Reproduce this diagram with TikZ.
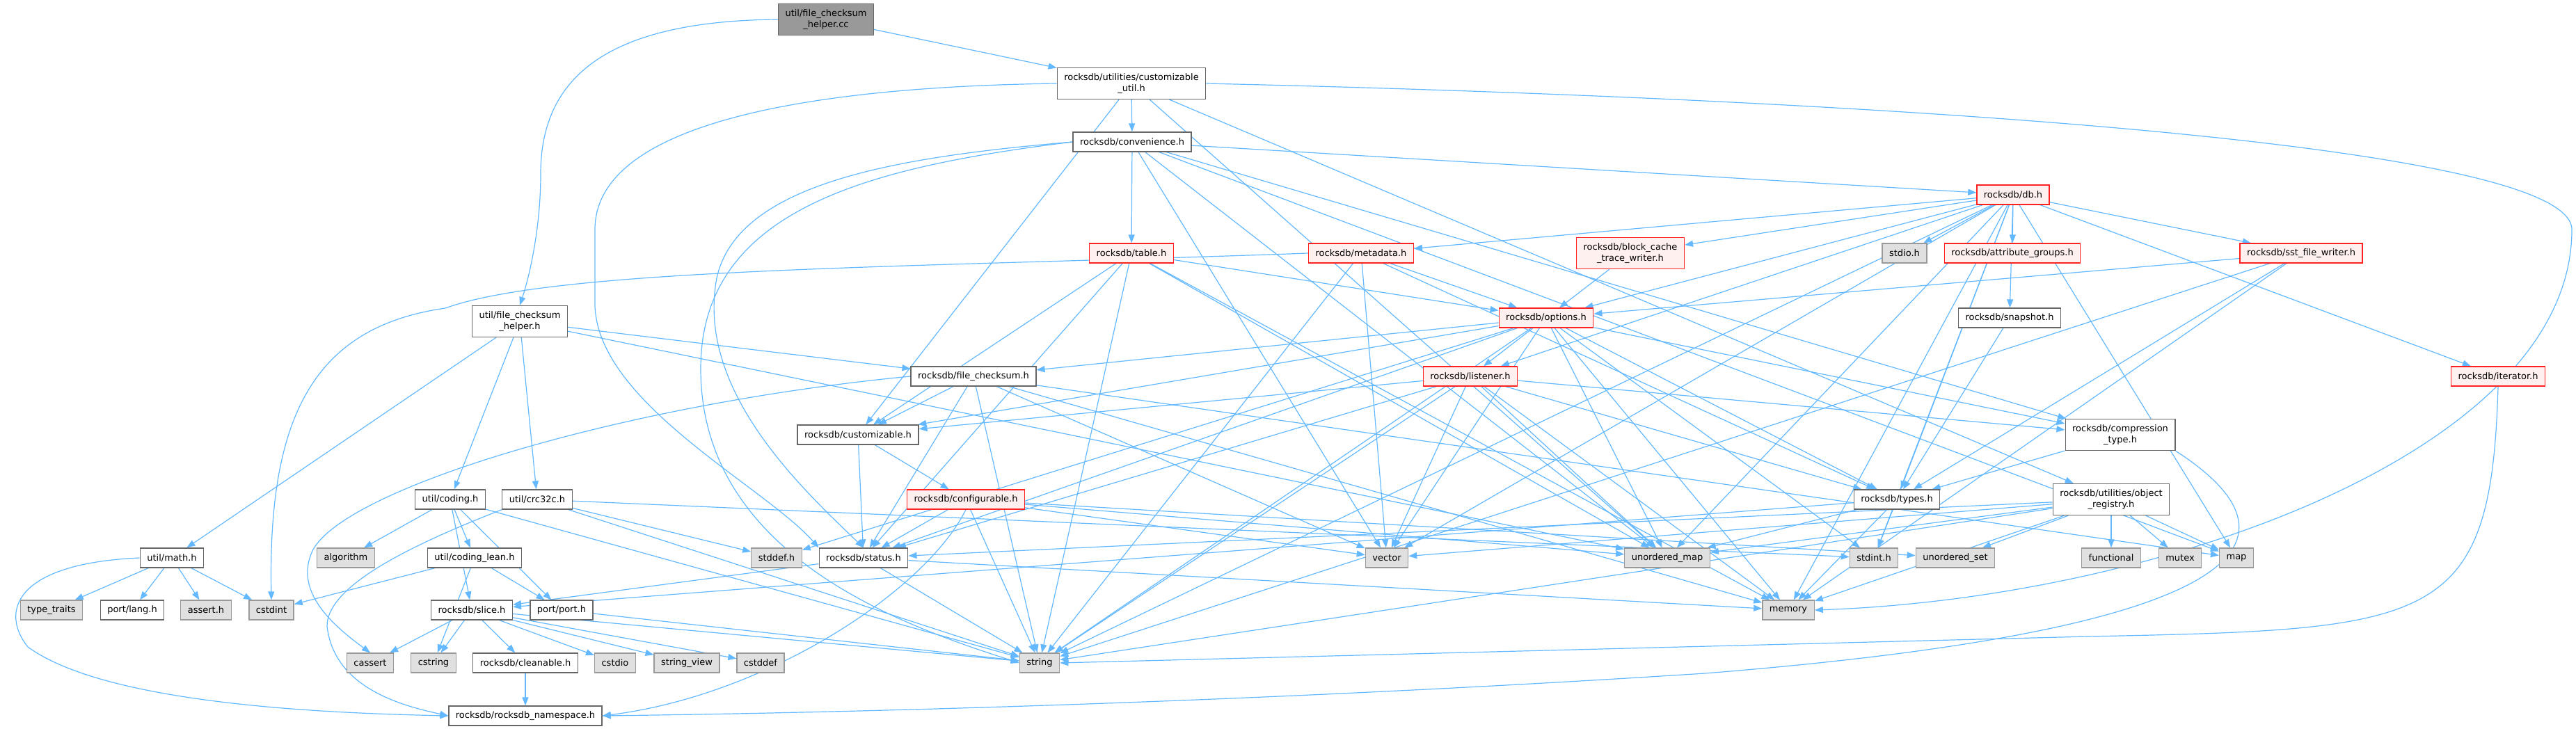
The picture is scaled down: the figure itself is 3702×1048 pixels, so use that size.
\documentclass[tikz,border=0pt]{standalone}
\usepackage{fontspec}
\setmainfont{DejaVu Sans}
\usepackage{xcolor}
\usepackage{tikz}
\usetikzlibrary{arrows.meta,backgrounds}
\definecolor{edgeblue}{HTML}{63B8FF}
\definecolor{dxborder}{HTML}{666666}
\definecolor{dxsysborder}{HTML}{999999}
\definecolor{dxsysfill}{HTML}{E0E0E0}
\definecolor{dxredfill}{HTML}{FFF0F0}
\definecolor{dxred}{HTML}{FF2020}
\begin{document}
\begin{tikzpicture}[
  x=1pt, y=-1pt,
  font=\fontsize{13}{16.6}\selectfont,
  hdr/.style={draw=dxborder, fill=white, line width=1.3pt, inner xsep=10pt, inner ysep=0pt,
              minimum height=28pt, align=center},
  twoline/.style={minimum height=45pt},
  syshdr/.style={hdr, draw=dxsysborder, fill=dxsysfill},
  trunc/.style={hdr, draw=dxred, fill=dxredfill},
  mainhdr/.style={hdr, draw=dxborder, fill=dxsysborder, twoline},
  dep/.style={draw=edgeblue, line width=1.2pt, -{Triangle[length=12pt,width=9pt]}},
]
\useasboundingbox (0,0) rectangle (3702,1048);
\node[mainhdr] (cc) at (1187,28) {util/file\_checksum\\\_helper.cc};
\node[hdr, twoline] (fchh) at (747,462) {util/file\_checksum\\\_helper.h};
\node[hdr, twoline] (cutil) at (1626,120) {rocksdb/utilities/customizable\\\_util.h};
\node[hdr] (conv) at (1627,204) {rocksdb/convenience.h};
\node[trunc] (table) at (1626,364) {rocksdb/table.h};
\node[trunc] (meta) at (1956,364) {rocksdb/metadata.h};
\node[trunc, twoline] (bctw) at (2343,364) {rocksdb/block\_cache\\\_trace\_writer.h};
\node[trunc] (dbh) at (2893,280) {rocksdb/db.h};
\node[syshdr] (stdioh) at (2737,364) {stdio.h};
\node[trunc] (attr) at (2892,364) {rocksdb/attribute\_groups.h};
\node[trunc] (sstw) at (3307,364) {rocksdb/sst\_file\_writer.h};
\node[trunc] (opts) at (2222,457) {rocksdb/options.h};
\node[hdr] (snap) at (2888,457) {rocksdb/snapshot.h};
\node[hdr] (fcs) at (1399,541) {rocksdb/file\_checksum.h};
\node[trunc] (lstn) at (2113,541) {rocksdb/listener.h};
\node[trunc] (iter) at (3590,541) {rocksdb/iterator.h};
\node[hdr] (custom) at (1233,625) {rocksdb/customizable.h};
\node[hdr, twoline] (comp) at (3047,625) {rocksdb/compression\\\_type.h};
\node[hdr] (coding) at (647,718) {util/coding.h};
\node[hdr] (crc) at (772,718) {util/crc32c.h};
\node[trunc] (confg) at (1388,718) {rocksdb/configurable.h};
\node[hdr] (types) at (2726,718) {rocksdb/types.h};
\node[hdr, twoline] (objreg) at (3034,718) {rocksdb/utilities/object\\\_registry.h};
\node[hdr] (math) at (247,802) {util/math.h};
\node[syshdr] (algo) at (497,802) {algorithm};
\node[hdr] (clean) at (682,802) {util/coding\_lean.h};
\node[syshdr] (stddef) at (1116,802) {stddef.h};
\node[hdr] (status) at (1241,802) {rocksdb/status.h};
\node[syshdr] (vector) at (1993,802) {vector};
\node[syshdr] (umap) at (2396,802) {unordered\_map};
\node[syshdr] (stdint) at (2693,802) {stdint.h};
\node[syshdr] (uset) at (2810,802) {unordered\_set};
\node[syshdr] (func) at (3034,802) {functional};
\node[syshdr] (mutex) at (3133,802) {mutex};
\node[syshdr] (map) at (3214,802) {map};
\node[syshdr] (typetr) at (74,877) {type\_traits};
\node[hdr] (lang) at (190,877) {port/lang.h};
\node[syshdr] (asrt) at (296,877) {assert.h};
\node[syshdr] (cstdint) at (390,877) {cstdint};
\node[hdr] (slice) at (678,877) {rocksdb/slice.h};
\node[hdr] (port) at (807,877) {port/port.h};
\node[syshdr] (memory) at (2570,877) {memory};
\node[syshdr] (cassert) at (532,953) {cassert};
\node[syshdr] (cstring) at (623,953) {cstring};
\node[hdr] (cleanable) at (755,953) {rocksdb/cleanable.h};
\node[syshdr] (cstdio) at (884,953) {cstdio};
\node[syshdr] (strv) at (987,953) {string\_view};
\node[syshdr] (cstddef) at (1093,953) {cstddef};
\node[syshdr] (string) at (1494,953) {string};
\node[hdr] (nsp) at (755,1029) {rocksdb/rocksdb\_namespace.h};
\begin{scope}[on background layer]
\foreach \a/\b in {cc/cutil, fchh/math, fchh/coding, fchh/crc, fchh/fcs, fchh/umap,
  cutil/conv, cutil/custom, cutil/umap, cutil/objreg,
  conv/table, conv/dbh, conv/comp, conv/map, conv/umap, conv/vector,
  table/opts, table/custom, table/status, table/string, table/memory, table/umap,
  meta/opts, meta/types, meta/string, meta/vector,
  dbh/meta, dbh/bctw, dbh/opts, dbh/lstn, dbh/stdioh, dbh/attr, dbh/sstw, dbh/snap, dbh/iter,
  dbh/types, dbh/string, dbh/vector, dbh/memory, dbh/umap, dbh/map, dbh/stdint,
  bctw/opts, sstw/opts, sstw/types, sstw/string, sstw/memory, snap/types,
  opts/fcs, opts/custom, opts/status, opts/stddef, opts/lstn, opts/comp, opts/types, opts/stdint,
  opts/string, opts/vector, opts/umap, opts/memory,
  fcs/custom, fcs/status, fcs/string, fcs/vector, fcs/memory, fcs/map,
  lstn/custom, lstn/status, lstn/comp, lstn/types, lstn/string, lstn/vector, lstn/memory, lstn/umap,
  custom/confg, custom/status, comp/types,
  confg/status, confg/string, confg/vector, confg/umap, confg/uset,
  objreg/status, objreg/vector, objreg/umap, objreg/uset, objreg/func, objreg/mutex, objreg/map,
  objreg/memory, objreg/string,
  types/slice, types/stdint, types/memory, types/umap,
  status/slice, status/string, status/memory,
  coding/algo, coding/clean, coding/slice, coding/port, coding/string,
  crc/stddef, crc/stdint, crc/string,
  clean/cstdint, clean/cstring, clean/port,
  math/typetr, math/lang, math/asrt, math/cstdint,
  slice/cassert, slice/cstring, slice/cleanable, slice/cstdio, slice/strv, slice/cstddef, slice/string,
  port/string, cleanable/nsp}
  \draw[dep] (\a) -- (\b);
\draw[dep] (cc.west) .. controls (860,30) and (777,120) .. (777,250) .. controls (777,330) and (760,400) .. (fchh.north);
\draw[dep] (cutil.west) .. controls (1150,125) and (855,180) .. (855,330) -- (855,440) .. controls (860,580) and (1100,700) .. (status.north west);
\draw[dep] (conv.west) .. controls (1300,225) and (1060,260) .. (1030,400) .. controls (1000,560) and (1150,700) .. (status.north);
\draw[dep] (conv.west) .. controls (1250,240) and (1007,300) .. (1007,530) .. controls (1007,800) and (1300,900) .. (string.west);
\draw[dep] (cutil.east) .. controls (2600,140) and (3696,200) .. (3696,330) .. controls (3696,650) and (3100,860) .. (memory.east);
\draw[dep] (meta.west) .. controls (1300,385) and (800,385) .. (640,443) .. controls (450,470) and (385,600) .. (cstdint.north);
\draw[dep] (fcs.west) .. controls (900,580) and (500,700) .. (450,790) .. controls (420,850) and (480,900) .. (cassert.north);
\draw[dep] (math.west) .. controls (20,810) and (0,880) .. (40,930) .. controls (150,1010) and (450,1025) .. (nsp.west);
\draw[dep] (crc.south west) .. controls (600,780) and (470,840) .. (470,900) .. controls (480,990) and (580,1015) .. (nsp.west);
\draw[dep] (confg.south) .. controls (1330,850) and (1100,1000) .. (nsp.east);
\draw[dep] (comp.south east) .. controls (3300,760) and (3300,900) .. (2450,968) .. controls (1800,1010) and (1200,1025) .. (nsp.east);
\draw[dep] (iter.south) .. controls (3580,900) and (3500,905) .. (3000,915) -- (string.east);
\end{scope}
\end{tikzpicture}
\end{document}
